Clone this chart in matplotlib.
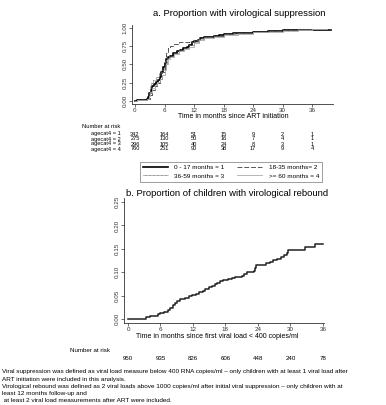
import matplotlib
matplotlib.use("Agg")
import matplotlib.pyplot as plt
from matplotlib.transforms import blended_transform_factory

plt.rcParams['font.family'] = ['Liberation Sans', 'DejaVu Sans']

W, H = 386, 405

# panel a: proportion with virological suppression by age group
t1 = [0, 0.5, 2.4, 2.6, 2.9, 3.2, 3.5, 3.8, 4.2, 4.6, 5.0, 5.3, 5.6, 6.0, 6.3, 6.7, 7.2, 7.8, 8.5, 9.2, 9.8,
      10.5, 11.0, 11.5, 12.0, 12.7, 13.3, 14.0, 15.0, 16.0, 17.0, 18.0, 19.0, 20.0, 22.0, 24.0, 25.0, 27.0,
      28.0, 30.0, 33.0, 36.0, 39.8]
s1 = [0, 0.01, 0.02, 0.05, 0.10, 0.15, 0.20, 0.23, 0.26, 0.28, 0.32, 0.40, 0.46, 0.52, 0.57, 0.60, 0.62, 0.65,
      0.68, 0.70, 0.72, 0.74, 0.77, 0.80, 0.82, 0.84, 0.86, 0.87, 0.88, 0.89, 0.90, 0.91, 0.92, 0.925, 0.93,
      0.94, 0.945, 0.955, 0.96, 0.965, 0.97, 0.975, 0.975]
t2 = [0, 0.5, 2.5, 3.0, 3.5, 4.0, 4.5, 5.0, 5.5, 6.0, 6.3, 6.7, 7.2, 8.0, 9.0, 11.0, 12.0, 13.0, 14.0, 15.0,
      16.0, 18.0, 20.0, 22.0, 24.0, 27.0, 30.0, 33.0, 36.0, 39.5]
s2 = [0, 0.01, 0.03, 0.08, 0.15, 0.20, 0.25, 0.30, 0.40, 0.55, 0.65, 0.72, 0.75, 0.78, 0.80, 0.81, 0.84, 0.86,
      0.87, 0.88, 0.89, 0.91, 0.93, 0.935, 0.945, 0.96, 0.97, 0.975, 0.98, 0.98]
t3 = [0, 0.5, 2.5, 2.8, 3.0, 3.3, 3.7, 4.2, 4.8, 5.3, 5.8, 6.2, 6.6, 7.0, 8.0, 9.0, 10.0, 11.0, 12.0, 13.0,
      14.0, 16.0, 18.0, 21.0, 24.0, 27.0, 30.0, 33.0, 36.0, 39.0]
s3 = [0, 0.01, 0.03, 0.10, 0.20, 0.25, 0.28, 0.33, 0.38, 0.42, 0.46, 0.50, 0.58, 0.62, 0.66, 0.70, 0.73, 0.76,
      0.81, 0.85, 0.87, 0.89, 0.91, 0.93, 0.95, 0.96, 0.97, 0.98, 0.985, 0.985]
t4 = [0, 0.5, 2.5, 2.8, 3.1, 3.5, 4.0, 4.5, 5.0, 5.5, 6.0, 6.3, 6.7, 7.2, 8.0, 9.0, 10.0, 11.0, 12.0, 13.0,
      14.0, 16.0, 18.0, 21.0, 24.0, 27.0, 30.0, 33.0, 36.0, 39.0]
s4 = [0, 0.01, 0.02, 0.06, 0.12, 0.18, 0.22, 0.26, 0.30, 0.36, 0.42, 0.50, 0.57, 0.60, 0.64, 0.68, 0.71, 0.74,
      0.79, 0.84, 0.86, 0.88, 0.90, 0.92, 0.94, 0.95, 0.96, 0.97, 0.98, 0.98]

risk_times = [0, 6, 12, 18, 24, 30, 36]
risk_a = {
    'agecat4 = 1': [342, 164, 51, 15, 9, 2, 1],
    'agecat4 = 2': [275, 130, 50, 16, 7, 4, 1],
    'agecat4 = 3': [296, 105, 40, 24, 8, 3, 1],
    'agecat4 = 4': [760, 251, 90, 38, 17, 9, 4],
}
legend_labels = ['0 - 17 months = 1', '18-35 months= 2', '36-59 months = 3', '>= 60 months = 4']

# panel b: cumulative proportion with virological rebound
tb = [0, 3.4, 4.0, 5.6, 6.0, 6.7, 7.3, 7.8, 8.3, 8.7, 9.1, 9.6, 10.6, 11.2, 11.8, 12.6, 13.2, 13.8, 14.3,
      14.9, 15.5, 16.0, 16.5, 17.0, 17.6, 18.5, 19.2, 19.8, 21.0, 21.5, 21.9, 23.2, 23.5, 23.7, 25.0, 25.5,
      26.2, 26.8, 27.5, 28.3, 28.8, 29.3, 29.6, 32.6, 34.6, 36.0]
rb = [0, 0.004, 0.006, 0.010, 0.013, 0.016, 0.019, 0.024, 0.029, 0.034, 0.038, 0.042, 0.045, 0.050, 0.052,
      0.054, 0.057, 0.060, 0.065, 0.068, 0.071, 0.074, 0.077, 0.081, 0.084, 0.085, 0.087, 0.089, 0.091, 0.096,
      0.100, 0.102, 0.110, 0.115, 0.116, 0.119, 0.122, 0.126, 0.129, 0.132, 0.136, 0.141, 0.148, 0.153, 0.161,
      0.161]
risk_b = [950, 935, 826, 606, 448, 240, 78]

footnotes = [
    'Viral suppression was defined as viral load measure below 400 RNA copies/ml \u2013 only children with at least 1 viral load after',
    'ART initiation were included in this analysis.',
    'Virological rebound was defined as 2 viral loads above 1000 copies/ml after initial viral suppression \u2013 only children with at',
    'least 12 months follow-up and',
    ' at least 2 viral load measurements after ART were included.',
]


def fx(px):
    return px / W


def fy(py):
    return 1 - py / H


def style_axes(ax):
    for s in ['top', 'right']:
        ax.spines[s].set_visible(False)
    for s in ['left', 'bottom']:
        ax.spines[s].set_linewidth(0.6)
        ax.spines[s].set_color('#333333')
    ax.tick_params(length=2.2, width=0.5, labelsize=4.5, pad=1, colors='#333333')
    for lab in ax.get_yticklabels():
        lab.set_rotation(90)
        lab.set_va('center')


fig = plt.figure(figsize=(W / 100, H / 100), dpi=100)

# ---- panel a
axa = fig.add_axes([fx(132), fy(104), fx(333) - fx(132), fy(25) - fy(104)])
axa.plot(t1, s1, drawstyle='steps-post', color='black', lw=1.2)
axa.plot(t2, s2, drawstyle='steps-post', color='#555555', lw=0.7, dashes=(5, 2))
axa.plot(t3, s3, drawstyle='steps-post', color='#666666', lw=0.6, ls=(0, (1, 0.6)))
axa.plot(t4, s4, drawstyle='steps-post', color='#aaaaaa', lw=0.6)
axa.set_xlim(-0.6, 40.2)
axa.set_ylim(-0.045, 1.04)
axa.set_xticks(risk_times)
axa.set_yticks([0, 0.25, 0.5, 0.75, 1.0])
axa.set_yticklabels(['0.00', '0.25', '0.50', '0.75', '1.00'])
style_axes(axa)

fig.text(fx(239), fy(13), 'a. Proportion with virological suppression', ha='center', va='center', fontsize=6.8)
fig.text(fx(233), fy(117), 'Time in months since ART initiation', ha='center', va='center', fontsize=5.0)

tra = blended_transform_factory(axa.transData, fig.transFigure)
fig.text(fx(82), fy(126), 'Number at risk', ha='left', va='center', fontsize=4.2)
row_y = [134, 139, 144, 149]
for (lab, vals), y in zip(risk_a.items(), row_y):
    fig.text(fx(121), fy(y), lab, ha='right', va='center', fontsize=4.1)
    for t, v in zip(risk_times, vals):
        axa.text(t, fy(y), str(v), transform=tra, ha='center', va='center', fontsize=4.1)

handles = axa.get_lines()
order = [0, 2, 1, 3]
leg = fig.legend([handles[i] for i in order], [legend_labels[i] for i in order],
                 loc='upper left', bbox_to_anchor=(fx(140), fy(162)), ncol=2,
                 fontsize=4.6, handlelength=3.9, handletextpad=1.0, columnspacing=2.0,
                 frameon=True, fancybox=False, borderpad=0.45, labelspacing=0.45,
                 borderaxespad=0)
leg.get_frame().set_edgecolor('#555555')
leg.get_frame().set_linewidth(0.5)

# ---- panel b
axb = fig.add_axes([fx(124), fy(323), fx(324) - fx(124), fy(198) - fy(323)])
axb.plot(tb, rb, drawstyle='steps-post', color='#222222', lw=1.1)
axb.set_xlim(-0.74, 36.2)
axb.set_ylim(-0.0085, 0.2585)
axb.set_xticks(risk_times)
axb.set_yticks([0, 0.05, 0.10, 0.15, 0.20, 0.25])
axb.set_yticklabels(['0.00', '0.05', '0.10', '0.15', '0.20', '0.25'])
style_axes(axb)

fig.text(fx(227), fy(193), 'b. Proportion of children with virological rebound', ha='center', va='center', fontsize=6.8)
fig.text(fx(217), fy(337), 'Time in months since first viral load < 400 copies/ml', ha='center', va='center', fontsize=5.0)

trb = blended_transform_factory(axb.transData, fig.transFigure)
fig.text(fx(70), fy(351), 'Number at risk', ha='left', va='center', fontsize=4.4)
for t, v in zip(risk_times, risk_b):
    axb.text(t, fy(359), str(v), transform=trb, ha='center', va='center', fontsize=4.4)

for i, line in enumerate(footnotes):
    fig.text(fx(2), fy(372 + i * 7.2), line, ha='left', va='center', fontsize=4.55)

fig.savefig('out.png', dpi=100)
